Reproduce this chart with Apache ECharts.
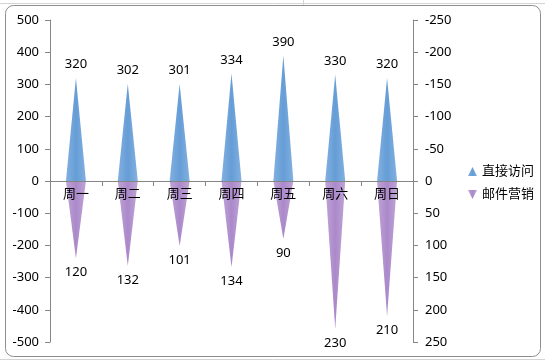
<!DOCTYPE html>
<html>
<head>
<meta charset="utf-8">
<script src="https://cdn.jsdelivr.net/npm/echarts@6/dist/echarts.min.js"></script>
<style>
html,body{margin:0;padding:0;background:#fff;}
#chart{width:545px;height:362px;}
</style>
</head>
<body>
<div id="chart"></div>
<script>
const categories = ['周一','周二','周三','周四','周五','周六','周日'];
const directVisits = [320, 302, 301, 334, 390, 330, 320];
const emailMarketing = [120, 132, 101, 134, 90, 230, 210];
const seriesNames = ['直接访问', '邮件营销'];

const font = "'Noto Sans', 'Noto Sans CJK SC', sans-serif";
const chart = echarts.init(document.getElementById('chart'));

const option = {
  backgroundColor: '#ffffff',
  animation: false,
  textStyle: { fontFamily: font },
  graphic: [
    { type: 'line', shape: { x1: 0, y1: 3.5, x2: 545, y2: 3.5 }, style: { stroke: '#d4d4d4', lineWidth: 1 }, silent: true, z: -10 },
    { type: 'line', shape: { x1: 0, y1: 359.5, x2: 545, y2: 359.5 }, style: { stroke: '#d4d4d4', lineWidth: 1 }, silent: true, z: -10 },
    { type: 'line', shape: { x1: 303.5, y1: 0, x2: 303.5, y2: 6 }, style: { stroke: '#d4d4d4', lineWidth: 1 }, silent: true, z: -10 },
    { type: 'rect', shape: { x: 5.5, y: 5.5, width: 535, height: 351, r: 8 },
      style: { fill: '#ffffff', stroke: '#8e8e8e', lineWidth: 1 }, silent: true, z: -9 }
  ],
  legend: {
    orient: 'vertical',
    left: 463,
    top: 160,
    itemGap: 10,
    itemWidth: 9,
    itemHeight: 9,
    textStyle: { fontSize: 13, color: '#000', fontFamily: font },
    data: [
      { name: seriesNames[0], icon: 'triangle' },
      { name: seriesNames[1], icon: 'path://M0,0 L10,0 L5,10 Z' }
    ]
  },
  grid: { left: 50, right: 132, top: 20, bottom: 20 },
  xAxis: {
    type: 'category',
    data: categories,
    z: 10,
    offset: -161,
    axisLine: { onZero: false, lineStyle: { color: '#868686', width: 1 } },
    axisTick: { show: true, length: 5, lineStyle: { color: '#868686' } },
    axisLabel: { color: '#000', fontSize: 13, margin: 7, fontFamily: font }
  },
  yAxis: [
    {
      type: 'value', min: -500, max: 500, interval: 100, position: 'left',
      axisLine: { show: true, lineStyle: { color: '#868686' } },
      axisTick: { show: true, length: 5, lineStyle: { color: '#868686' } },
      splitLine: { show: false },
      axisLabel: { color: '#000', fontSize: 13, margin: 11, fontFamily: font }
    },
    {
      type: 'value', min: -250, max: 250, interval: 50, position: 'right', inverse: true,
      axisLine: { show: true, lineStyle: { color: '#868686' } },
      axisTick: { show: true, length: 5, lineStyle: { color: '#868686' } },
      splitLine: { show: false },
      axisLabel: { color: '#000', fontSize: 13, margin: 12, fontFamily: font }
    }
  ],
  series: [
    {
      name: seriesNames[0],
      type: 'pictorialBar',
      yAxisIndex: 0,
      symbol: 'triangle',
      symbolSize: [20, '100%'],
      barGap: '-100%',
      barCategoryGap: '20%',
      itemStyle: {
        color: new echarts.graphic.LinearGradient(0, 0, 1, 0, [
          { offset: 0, color: '#82b0e0' },
          { offset: 0.5, color: '#659dd6' },
          { offset: 1, color: '#82b0e0' }
        ])
      },
      label: { show: true, position: 'top', distance: 7, color: '#000', fontSize: 13, fontFamily: font },
      data: directVisits
    },
    {
      name: seriesNames[1],
      type: 'pictorialBar',
      yAxisIndex: 1,
      symbol: 'triangle',
      symbolSize: [20, '100%'],
      barGap: '-100%',
      barCategoryGap: '20%',
      itemStyle: {
        color: new echarts.graphic.LinearGradient(0, 0, 1, 0, [
          { offset: 0, color: '#c0a4d7' },
          { offset: 0.5, color: '#ab89ca' },
          { offset: 1, color: '#c0a4d7' }
        ])
      },
      label: { show: true, position: 'bottom', distance: 8, color: '#000', fontSize: 13, fontFamily: font },
      data: emailMarketing
    }
  ]
};
chart.setOption(option);
</script>
</body>
</html>
